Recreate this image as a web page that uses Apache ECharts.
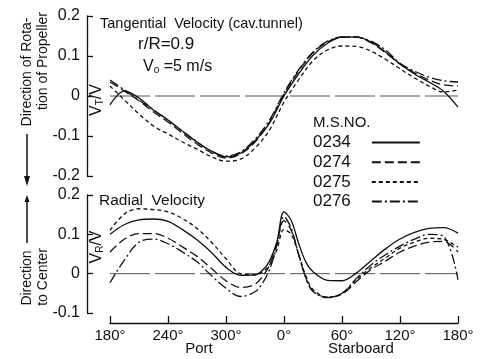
<!DOCTYPE html>
<html>
<head>
<meta charset="utf-8">
<script src="https://cdn.jsdelivr.net/npm/echarts@6/dist/echarts.min.js"></script>
<style>
  html, body { margin: 0; padding: 0; background: #fff; }
  #chart { width: 487px; height: 359px; }
</style>
</head>
<body>
<div id="chart"></div>
<script>
// Circumferential angle, -180..180 (negative side = port, labelled 180°..360°)
const tanAngles = [-180,-165,-150,-135,-120,-105,-90,-75,-60,-45,-30,-15,0,15,30,45,60,75,90,105,120,135,150,165,180];
const radAngles = [-180,-165,-150,-135,-120,-105,-90,-75,-60,-45,-30,-22.5,-15,-7.5,0,7.5,15,22.5,30,45,60,75,90,105,120,135,150,165,180];

// Model ship numbers
const shipNos = ['0234', '0274', '0275', '0276'];

// Tangential velocity VT/V, r/R = 0.9
const tan0234 = [-0.022, 0.013, -0.005, -0.035, -0.06, -0.088, -0.115, -0.138, -0.152, -0.143, -0.112, -0.068, 0.0, 0.055, 0.102, 0.132, 0.147, 0.148, 0.135, 0.11, 0.08, 0.055, 0.035, 0.012, -0.028];
const tan0274 = [0.035, 0.012, -0.012, -0.04, -0.065, -0.093, -0.12, -0.142, -0.155, -0.145, -0.115, -0.065, 0.005, 0.062, 0.108, 0.135, 0.147, 0.147, 0.133, 0.108, 0.08, 0.058, 0.04, 0.028, 0.025];
const tan0275 = [0.025, -0.01, -0.045, -0.075, -0.095, -0.115, -0.133, -0.152, -0.163, -0.158, -0.13, -0.085, -0.015, 0.04, 0.088, 0.115, 0.125, 0.124, 0.112, 0.092, 0.068, 0.045, 0.025, 0.01, 0.015];
const tan0276 = [0.04, 0.015, -0.01, -0.035, -0.06, -0.088, -0.115, -0.138, -0.15, -0.14, -0.108, -0.06, 0.008, 0.065, 0.11, 0.137, 0.148, 0.147, 0.137, 0.115, 0.082, 0.062, 0.047, 0.038, 0.035];

// Radial velocity VR/V
const rad0234 = [0.1, 0.125, 0.137, 0.139, 0.133, 0.112, 0.086, 0.054, 0.016, -0.004, -0.003, 0.008, 0.032, 0.08, 0.157, 0.135, 0.078, 0.03, 0.005, -0.017, -0.018, 0.002, 0.033, 0.063, 0.088, 0.105, 0.115, 0.117, 0.103];
const rad0274 = [0.055, 0.088, 0.102, 0.102, 0.09, 0.068, 0.044, 0.013, -0.018, -0.035, -0.027, -0.008, 0.022, 0.075, 0.135, 0.11, 0.05, -0.01, -0.045, -0.06, -0.052, -0.02, 0.01, 0.032, 0.055, 0.07, 0.08, 0.082, 0.055];
const rad0275 = [0.11, 0.152, 0.165, 0.163, 0.157, 0.14, 0.115, 0.08, 0.038, 0.0, -0.003, 0.004, 0.022, 0.06, 0.112, 0.1, 0.05, -0.005, -0.04, -0.06, -0.05, -0.015, 0.015, 0.04, 0.065, 0.08, 0.09, 0.087, 0.067];
const rad0276 = [-0.023, 0.035, 0.08, 0.088, 0.076, 0.055, 0.03, -0.005, -0.037, -0.058, -0.046, -0.025, 0.01, 0.07, 0.145, 0.115, 0.05, -0.01, -0.045, -0.061, -0.05, -0.012, 0.022, 0.048, 0.07, 0.088, 0.1, 0.095, -0.015];

// Angle axis ticks
const xTickValues = [-180, -120, -60, 0, 60, 120, 180];
const xTickLabels = ['180°', '240°', '300°', '0°', '60°', '120°', '180°'];

const FONT = '"Liberation Sans", Arial, sans-serif';
const INK = '#111';
const dashes = {
  '0234': 'solid',
  '0274': [9, 4],
  '0275': [4, 3],
  '0276': [10, 3, 2, 3]
};

function pairs(xs, ys) { return xs.map((x, i) => [x, ys[i]]); }

function curve(name, gridIdx, xs, ys) {
  return {
    name: name,
    type: 'line',
    xAxisIndex: gridIdx,
    yAxisIndex: gridIdx,
    data: pairs(xs, ys),
    smooth: 0.35,
    showSymbol: false,
    symbol: 'none',
    itemStyle: { color: INK },
    lineStyle: { color: INK, width: 1.3, type: dashes[name] },
    z: 3
  };
}

function zeroLine(gridIdx) {
  return {
    type: 'line',
    xAxisIndex: gridIdx,
    yAxisIndex: gridIdx,
    data: [[-180, 0], [180, 0]],
    showSymbol: false,
    symbol: 'none',
    silent: true,
    lineStyle: { color: '#555', width: 1, type: [40, 5] },
    z: 2
  };
}

const tanSeries = [tan0234, tan0274, tan0275, tan0276];
const radSeries = [rad0234, rad0274, rad0275, rad0276];

const series = [zeroLine(0), zeroLine(1)];
shipNos.forEach((n, i) => series.push(curve(n, 0, tanAngles, tanSeries[i])));
shipNos.forEach((n, i) => series.push(curve(n, 1, radAngles, radSeries[i])));

const yAxisCommon = {
  type: 'value',
  interval: 0.1,
  offset: 23,
  axisLine: { show: true, onZero: false, lineStyle: { color: INK, width: 1.3 } },
  axisTick: { show: true, inside: true, length: 6, lineStyle: { color: INK, width: 1.3 } },
  axisLabel: { color: INK, fontSize: 16, fontFamily: FONT, margin: 7 },
  splitLine: { show: false }
};

function rotText(x, y, text, size) {
  return {
    type: 'text', x: x, y: y, rotation: Math.PI / 2,
    style: { text: text, fill: INK, font: size + 'px ' + FONT, textAlign: 'center', textVerticalAlign: 'middle' }
  };
}
function plainText(x, y, text, size, align) {
  return {
    type: 'text', x: x, y: y,
    style: { text: text, fill: INK, font: size + 'px ' + FONT, textAlign: align || 'left', textVerticalAlign: 'middle' }
  };
}
function subText(x, y, main, sub, tail, rotate) {
  return {
    type: 'text', x: x, y: y, rotation: rotate ? Math.PI / 2 : 0,
    style: {
      text: '{v|' + main + '}{s|' + sub + '}{v|' + tail + '}',
      textAlign: rotate ? 'center' : 'left', textVerticalAlign: 'middle',
      rich: {
        v: { fill: INK, font: '16px ' + FONT },
        s: { fill: INK, font: '10px ' + FONT, padding: [6, 0, 0, 0] }
      }
    }
  };
}

const option = {
  backgroundColor: '#fff',
  animation: false,
  grid: [
    { left: 110, width: 348, top: 16, height: 160 },
    { left: 110, width: 348, top: 195, height: 118 }
  ],
  xAxis: [
    { gridIndex: 0, type: 'value', min: -180, max: 180, show: false },
    {
      gridIndex: 1, type: 'value', min: -180, max: 180, interval: 60,
      position: 'bottom', offset: 10,
      axisLine: { show: true, onZero: false, lineStyle: { color: INK, width: 1.3 } },
      axisTick: { show: true, inside: true, length: 7, lineStyle: { color: INK, width: 1.3 } },
      axisLabel: {
        color: INK, fontSize: 15, fontFamily: FONT, margin: 5,
        formatter: v => xTickLabels[xTickValues.indexOf(v)]
      },
      splitLine: { show: false }
    }
  ],
  yAxis: [
    Object.assign({ gridIndex: 0, min: -0.2, max: 0.2 }, yAxisCommon),
    Object.assign({ gridIndex: 1, min: -0.1, max: 0.2 }, yAxisCommon)
  ],
  legend: {
    data: shipNos,
    orient: 'vertical',
    left: 313,
    top: 134,
    padding: 0,
    align: 'right',
    itemWidth: 48,
    itemHeight: 14,
    itemGap: 2.7,
    inactiveColor: INK,
    itemStyle: { opacity: 0 },
    textStyle: { color: INK, fontSize: 17, fontFamily: FONT, padding: [0, 16, 0, 0] }
  },
  graphic: [
    plainText(100, 24, 'Tangential  Velocity (cav.tunnel)', 14.5),
    plainText(138, 44, 'r/R=0.9', 17),
    subText(143, 67, 'V', 'o', ' =5 m/s', false),
    plainText(99, 201, 'Radial  Velocity', 15.5),
    plainText(313, 123, 'M.S.NO.', 15),
    subText(97, 100, 'V', 'T', '/V', true),
    subText(97, 247, 'V', 'R', '/V', true),
    rotText(27, 72, 'Direction of Rota-', 14),
    rotText(43, 61, 'tion of Propeller', 14),
    { type: 'line', shape: { x1: 27, y1: 134, x2: 27, y2: 180 }, style: { stroke: INK, lineWidth: 1.5 } },
    { type: 'polygon', shape: { points: [[24, 176], [30, 176], [27, 186]] }, style: { fill: INK } },
    rotText(27, 278, 'Direction', 14),
    rotText(43, 277, 'to Center', 14),
    { type: 'line', shape: { x1: 27, y1: 243, x2: 27, y2: 200 }, style: { stroke: INK, lineWidth: 1.5 } },
    { type: 'polygon', shape: { points: [[24.5, 202], [29.5, 202], [27, 195]] }, style: { fill: INK } },
    plainText(199, 349, 'Port', 15, 'center'),
    plainText(361, 349, 'Starboard', 15, 'center')
  ],
  series: series
};

const chart = echarts.init(document.getElementById('chart'), null, { renderer: 'canvas' });
chart.setOption(option);
</script>
</body>
</html>
